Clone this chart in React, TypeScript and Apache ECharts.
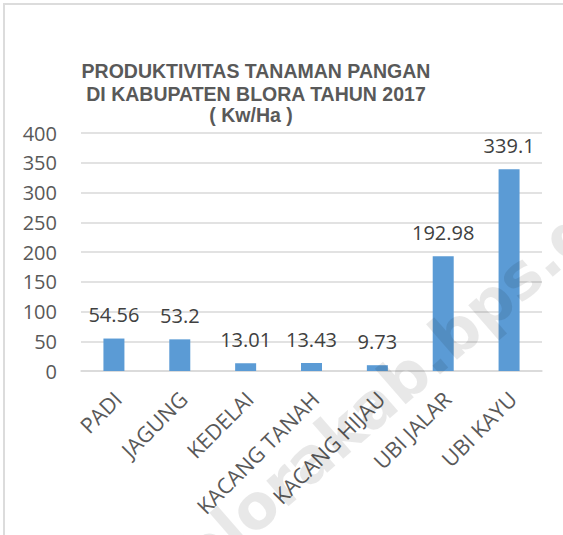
import React, { useEffect, useRef } from "react";
import * as echarts from "echarts";

const categories = ["PADI", "JAGUNG", "KEDELAI", "KACANG TANAH", "KACANG HIJAU", "UBI JALAR", "UBI KAYU"];
const values = [54.56, 53.2, 13.01, 13.43, 9.73, 192.98, 339.1];
const titleLines = ["PRODUKTIVITAS TANAMAN PANGAN", "DI KABUPATEN BLORA TAHUN 2017"];
const unitText = "( Kw/Ha )";
const watermark = "blorakab.bps.go.id";

export default function App() {
  const ref = useRef<HTMLDivElement>(null);
  useEffect(() => {
    if (!ref.current) return;
    const chart = echarts.init(ref.current, null, { renderer: "svg" });
    const titleStyle = {
      fontFamily: "Liberation Sans",
      fontWeight: "bold",
      fontSize: 19.5,
      lineHeight: 23.5,
      color: "#595959",
    };
    chart.setOption({
      animation: false,
      backgroundColor: "transparent",
      title: [
        { text: titleLines.join("\n"), left: 251, top: 54, textAlign: "center", textStyle: titleStyle },
        { text: unitText, left: 246, top: 98, textAlign: "center", textStyle: titleStyle },
      ],
      grid: { left: 81, right: 21, top: 133, bottom: 164, containLabel: false },
      xAxis: {
        type: "category",
        data: categories,
        axisLine: { show: true, lineStyle: { color: "#d9d9d9", width: 1.5 } },
        axisTick: { show: false },
        axisLabel: {
          interval: 0,
          rotate: 45,
          margin: 12,
          align: "right",
          verticalAlign: "top",
          padding: [0, 6, 0, 0],
          fontFamily: "Open Sans",
          fontSize: 21.5,
          color: "#595959",
        },
      },
      yAxis: {
        type: "value",
        min: 0,
        max: 400,
        interval: 50,
        axisLine: { show: false },
        axisTick: { show: false },
        splitLine: { lineStyle: { color: "#d9d9d9", width: 1.5 } },
        axisLabel: { margin: 24, fontFamily: "Open Sans", fontSize: 20, color: "#595959" },
      },
      series: [
        {
          type: "bar",
          data: values,
          barWidth: 21,
          itemStyle: { color: "#5b9bd5" },
          label: {
            show: true,
            position: "top",
            distance: 14,
            fontFamily: "Open Sans",
            fontSize: 20,
            color: "#404040",
          },
        },
      ],
      graphic: [
        {
          type: "text",
          x: 209,
          y: 588,
          rotation: (41 * Math.PI) / 180,
          z: 100,
          silent: true,
          style: {
            text: watermark,
            fontFamily: "DejaVu Sans",
            fontWeight: "bold",
            fontSize: 62,
            fill: "rgba(0,0,0,0.09)",
            align: "left",
            verticalAlign: "bottom",
          },
        },
      ],
    });
    return () => chart.dispose();
  }, []);

  return (
    <div
      style={{
        position: "absolute",
        left: 0,
        top: 0,
        width: 563,
        height: 535,
        overflow: "hidden",
        background: "#ffffff",
      }}
    >
      <div
        style={{
          position: "absolute",
          left: 3,
          top: 3,
          width: 700,
          height: 700,
          borderLeft: "2px solid #dcdcdc",
          borderTop: "2px solid #dcdcdc",
        }}
      />
      <div ref={ref} style={{ position: "absolute", left: 0, top: 0, width: 563, height: 535 }} />
    </div>
  );
}
